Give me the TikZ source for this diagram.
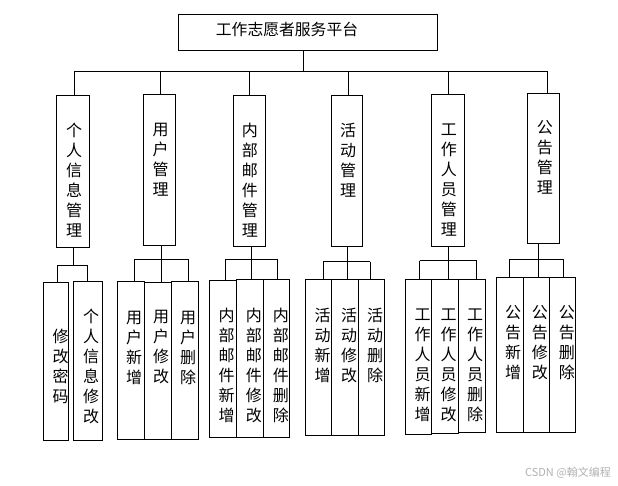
\documentclass[tikz,border=0pt]{standalone}
\usepackage{fontspec}
\newfontfamily\cjk{Noto Sans CJK SC}
\tikzset{
  box/.style={draw, line width=1pt, inner sep=0pt, rectangle},
  conn/.style={draw, line width=1pt},
  vtext/.style={inner sep=0pt, align=center, font=\cjk\fontsize{16}{20}\selectfont},
  htext/.style={inner sep=0pt, font=\cjk\fontsize{15.8}{20}\selectfont},
  mark text/.style={inner sep=0pt, text=black!30, font=\cjk\fontsize{11}{13}\selectfont}
}
\newcommand\mybox[5]{\node[box, minimum width={(#4-#2)*1pt}, minimum height={(#5-#3)*1pt}] (#1) at ({(#2+#4)/2},{(#3+#5)/2}) {};}
\begin{document}
\begin{tikzpicture}[x=1pt,y=-1pt]
\useasboundingbox[fill=white] (0,0) rectangle (618,485);
% top
\mybox{top}{178.3}{14.3}{437.3}{50.3}
\node[htext] (t0) at (287,29.5) {工作志愿者服务平台};
% level 2
\mybox{b1}{56.3}{95.3}{89.3}{247}
\mybox{b2}{143.3}{94.3}{175.7}{245.3}
\mybox{b3}{233}{95.3}{265.7}{246.3}
\mybox{b4}{331}{95.3}{362.7}{246.3}
\mybox{b5}{431.7}{94.3}{464.7}{246.3}
\mybox{b6}{527.3}{93.3}{559.7}{243.3}
\node[vtext] (t1) at (74,180) {个\\人\\信\\息\\管\\理};
\node[vtext] (t2) at (160.5,159.5) {用\\户\\管\\理};
\node[vtext] (t3) at (249.8,180) {内\\部\\邮\\件\\管\\理};
\node[vtext] (t4) at (348,160) {活\\动\\管\\理};
\node[vtext] (t5) at (448.8,180.5) {工\\作\\人\\员\\管\\理};
\node[vtext] (t6) at (544.8,157.5) {公\\告\\管\\理};
% top connectors
\coordinate (j0) at (303.7,71);
\coordinate (j1) at (74,71);
\coordinate (j2) at (160.7,71);
\coordinate (j3) at (249.3,71);
\coordinate (j4) at (348.3,71);
\coordinate (j5) at (448.3,71);
\coordinate (j6) at (547.3,71);
\draw[conn] (top.south -| j0) -- (j0);
\draw[conn] (j1) -- (j6);
\draw[conn] (j1) -- (j1 |- b1.north);
\draw[conn] (j2) -- (j2 |- b2.north);
\draw[conn] (j3) -- (j3 |- b3.north);
\draw[conn] (j4) -- (j4 |- b4.north);
\draw[conn] (j5) -- (j5 |- b5.north);
\draw[conn] (j6) -- (j6 |- b6.north);
% group 1
\mybox{c11}{43.3}{282.3}{68.3}{440.3}
\mybox{c12}{73.3}{281.3}{102.3}{440.3}
\coordinate (s1) at (73.3,265);
\coordinate (g1a) at (57.3,265);
\coordinate (g1b) at (87.3,265);
\draw[conn] (b1.south -| s1) -- (s1);
\draw[conn] (g1a) -- (g1b);
\draw[conn] (g1a) -- (g1a |- c11.north);
\draw[conn] (g1b) -- (g1b |- c12.north);
\node[vtext] (u11) at (60.5,366.5) {修\\改\\密\\码};
\node[vtext] (u12) at (91,366.5) {个\\人\\信\\息\\修\\改};
% group 2
\mybox{c21}{117.3}{281.3}{144.3}{439.3}
\mybox{c22}{144.3}{282.3}{171.3}{439.3}
\mybox{c23}{171.3}{281.3}{198.3}{439.3}
\coordinate (s2) at (161.7,259.3);
\coordinate (g2a) at (134.7,259.3);
\coordinate (g2c) at (188.3,259.3);
\draw[conn] (b2.south -| s2) -- (s2);
\draw[conn] (g2a) -- (g2c);
\draw[conn] (g2a) -- (g2a |- c21.north);
\draw[conn] (s2) -- (s2 |- c22.north);
\draw[conn] (g2c) -- (g2c |- c23.north);
\node[vtext] (u21) at (134,347.5) {用\\户\\新\\增};
\node[vtext] (u22) at (161,347.5) {用\\户\\修\\改};
\node[vtext] (u23) at (188,347.5) {用\\户\\删\\除};
% group 3
\mybox{c31}{209.3}{280.3}{236.3}{437.3}
\mybox{c32}{236.3}{279.3}{263.3}{437.3}
\mybox{c33}{263.3}{279.3}{289.3}{437.3}
\coordinate (s3) at (251.7,259.3);
\coordinate (g3a) at (225.7,259.3);
\coordinate (g3c) at (277.3,259.3);
\draw[conn] (b3.south -| s3) -- (s3);
\draw[conn] (g3a) -- (g3c);
\draw[conn] (g3a) -- (g3a |- c31.north);
\draw[conn] (s3) -- (s3 |- c32.north);
\draw[conn] (g3c) -- (g3c |- c33.north);
\node[vtext] (u31) at (226.7,365.7) {内\\部\\邮\\件\\新\\增};
\node[vtext] (u32) at (253.8,365.7) {内\\部\\邮\\件\\修\\改};
\node[vtext] (u33) at (280.8,365.7) {内\\部\\邮\\件\\删\\除};
% group 4
\mybox{c41}{305.3}{279.3}{331.7}{435}
\mybox{c42}{331.7}{279.3}{358.7}{435}
\mybox{c43}{358.7}{279.3}{384.3}{435}
\coordinate (s4) at (347.3,261.7);
\coordinate (g4a) at (323.3,261.7);
\coordinate (g4c) at (370.3,261.7);
\draw[conn] (b4.south -| s4) -- (s4);
\draw[conn] (g4a) -- (g4c);
\draw[conn] (g4a) -- (g4a |- c41.north);
\draw[conn] (s4) -- (s4 |- c42.north);
\draw[conn] (g4c) -- (g4c |- c43.north);
\node[vtext] (u41) at (322.5,345) {活\\动\\新\\增};
\node[vtext] (u42) at (349.2,345) {活\\动\\修\\改};
\node[vtext] (u43) at (375,345) {活\\动\\删\\除};
% group 5
\mybox{c51}{405.3}{279.3}{431.3}{434}
\mybox{c52}{431.3}{279.3}{458.3}{433}
\mybox{c53}{458.3}{279.3}{485.3}{432.3}
\coordinate (s5) at (448.3,260.7);
\coordinate (g5a) at (419.7,260.7);
\coordinate (g5c) at (476.7,260.7);
\draw[conn] (b5.south -| s5) -- (s5);
\draw[conn] (g5a) -- (g5c);
\draw[conn] (g5a) -- (g5a |- c51.north);
\draw[conn] (s5) -- (s5 |- c52.north);
\draw[conn] (g5c) -- (g5c |- c53.north);
\node[vtext] (u51) at (422.5,365.3) {工\\作\\人\\员\\新\\增};
\node[vtext] (u52) at (448.5,365.3) {工\\作\\人\\员\\修\\改};
\node[vtext] (u53) at (475.2,365.3) {工\\作\\人\\员\\删\\除};
% group 6
\mybox{c61}{496.7}{277.3}{523.3}{432.3}
\mybox{c62}{523.3}{277.3}{549.7}{432.3}
\mybox{c63}{549.7}{277.3}{575.3}{432.3}
\coordinate (s6) at (538.3,259.3);
\coordinate (g6a) at (509,259.3);
\coordinate (g6c) at (563.3,259.3);
\draw[conn] (b6.south -| s6) -- (s6);
\draw[conn] (g6a) -- (g6c);
\draw[conn] (g6a) -- (g6a |- c61.north);
\draw[conn] (s6) -- (s6 |- c62.north);
\draw[conn] (g6c) -- (g6c |- c63.north);
\node[vtext] (u61) at (513.2,342.5) {公\\告\\新\\增};
\node[vtext] (u62) at (539.8,342.5) {公\\告\\修\\改};
\node[vtext] (u63) at (566.8,342.5) {公\\告\\删\\除};
% watermark
\node[mark text, anchor=east] (wm) at (611,473) {CSDN @翰文编程};
\end{tikzpicture}
\end{document}
